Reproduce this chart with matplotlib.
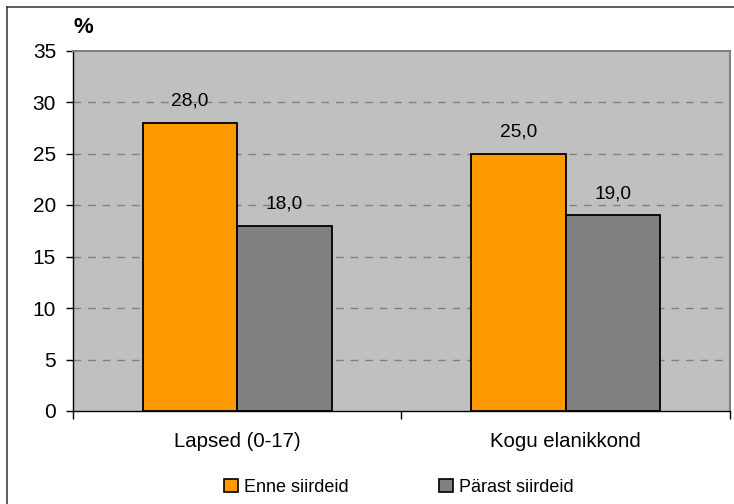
import matplotlib
matplotlib.use("Agg")
import matplotlib.pyplot as plt
from matplotlib.patches import Patch
from matplotlib.lines import Line2D
import numpy as np

plt.rcParams['font.family'] = ['Liberation Sans', 'DejaVu Sans']

categories = ["Lapsed (0-17)", "Kogu elanikkond"]
series_names = ["Enne siirdeid", "Pärast siirdeid"]
enne = [28.0, 25.0]
parast = [18.0, 19.0]
y_ticks = [0, 5, 10, 15, 20, 25, 30, 35]

colors = ["#ff9900", "#808080"]

W, H = 734, 504
fig = plt.figure(figsize=(W / 100, H / 100), dpi=100)
fig.patch.set_facecolor("white")

ax = fig.add_axes([73 / W, 1 - 411 / H, (730 - 73) / W, (411 - 50.5) / H])
ax.set_facecolor("#c0c0c0")

x = np.arange(len(categories))
bw = 0.288
for vals, off, col in [(enne, -bw / 2, colors[0]), (parast, bw / 2, colors[1])]:
    bars = ax.bar(x + off, vals, width=bw, color=col, edgecolor="black",
                  linewidth=1.3, zorder=3)
    for b, v in zip(bars, vals):
        ax.annotate(f"{v:.1f}".replace(".", ","),
                    xy=(b.get_x() + b.get_width() / 2, v),
                    xytext=(0, 12), textcoords="offset points",
                    ha="center", va="baseline", fontsize=13.8, zorder=4)

ax.set_xlim(-0.5, len(categories) - 0.5)
ax.set_ylim(0, 35)

# grid lines
for t in y_ticks[1:-1]:
    ax.axhline(t, color="#808080", linewidth=1,
               linestyle=(0, (5.5, 5)), zorder=1)

ax.set_yticks(y_ticks)
ax.tick_params(axis="y", direction="out", length=4.7, width=1, pad=7.5,
               labelsize=15, color="black")

ax.set_xticks(x)
ax.set_xticklabels(categories)
ax.tick_params(axis="x", which="major", length=0, pad=15, labelsize=14.7)
ax.set_xticks(np.arange(-0.5, len(categories), 1.0), minor=True)
ax.tick_params(axis="x", which="minor", direction="out", length=5.8,
               width=1, color="black")

for s in ["top", "right"]:
    ax.spines[s].set_color("#808080")
    ax.spines[s].set_linewidth(1.5)
for s in ["left", "bottom"]:
    ax.spines[s].set_color("black")
    ax.spines[s].set_linewidth(1)

fig.text(73 / W, 1 - 33 / H, "%", fontsize=16, fontweight="bold",
         ha="left", va="baseline")

handles = [Patch(facecolor=c, edgecolor="black", linewidth=1.2) for c in colors]
fig.legend(handles, series_names, loc="center", ncol=2, frameon=False,
           bbox_to_anchor=(399 / W, 1 - 487 / H), fontsize=13,
           handlelength=0.75, handleheight=0.75, handletextpad=0.35,
           columnspacing=5.0)

# outer chart border
fig.add_artist(Line2D([7 / W, 7 / W], [0, 1 - 7 / H], transform=fig.transFigure,
                      color="#303030", linewidth=1.1))
fig.add_artist(Line2D([7 / W, 1], [1 - 7 / H, 1 - 7 / H], transform=fig.transFigure,
                      color="#303030", linewidth=1.1))

fig.savefig("out.png", dpi=100)
